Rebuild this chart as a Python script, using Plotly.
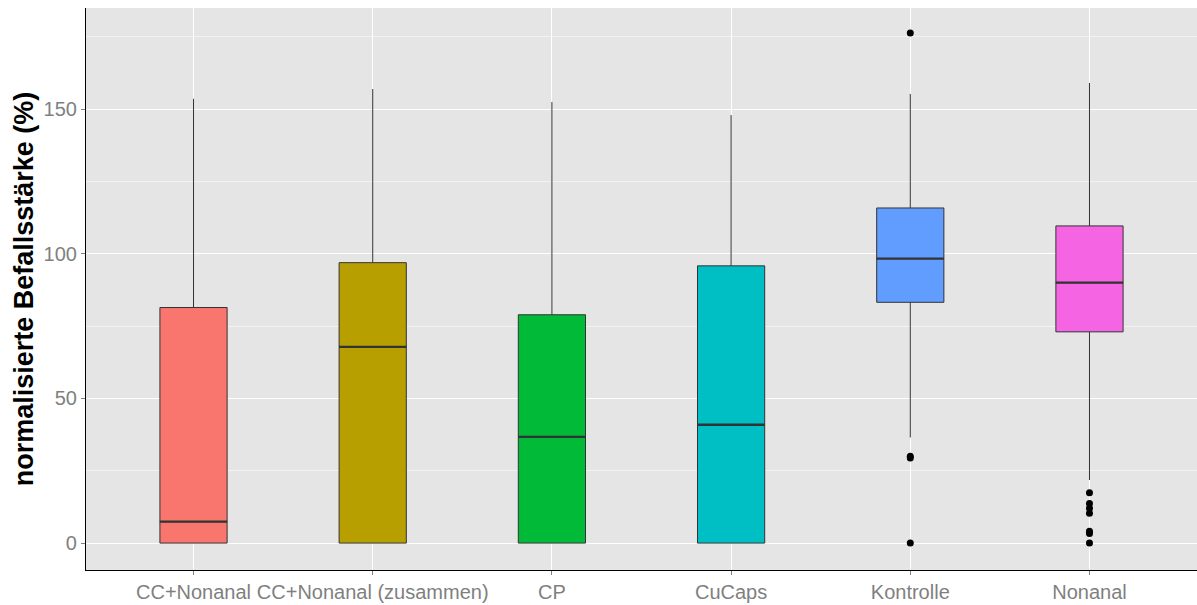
import plotly.graph_objects as go

# Gruppen und Kennwerte der Boxplots (normalisierte Befallsstärke in %)
groups = ["CC+Nonanal", "CC+Nonanal (zusammen)", "CP", "CuCaps", "Kontrolle", "Nonanal"]
lower_whisker = [0, 0, 0, 0, 36.5, 21.8]
q1 = [0, 0, 0, 0, 83.2, 73.0]
median = [7.4, 67.8, 36.7, 40.9, 98.3, 90.0]
q3 = [81.4, 96.9, 78.9, 95.8, 115.8, 109.6]
upper_whisker = [153.5, 156.9, 152.4, 147.9, 155.2, 159.0]

# Ausreißer je Gruppe
outliers = {
    "Kontrolle": [176.3, 30.0, 29.4, 0.0],
    "Nonanal": [17.4, 13.7, 12.0, 10.3, 4.1, 3.3, 0.0],
}

colors = ["#F8766D", "#B79F00", "#00BA38", "#00BFC4", "#619CFF", "#F564E3"]
box_width = 0.375

fig = go.Figure()
for i, g in enumerate(groups):
    fig.add_trace(go.Box(
        x=[i], q1=[q1[i]], median=[median[i]], q3=[q3[i]],
        lowerfence=[lower_whisker[i]], upperfence=[upper_whisker[i]],
        width=box_width, fillcolor=colors[i],
        line=dict(color="#333333", width=1), whiskerwidth=0,
        showlegend=False, hoverinfo="skip", name=g,
    ))
    # kräftigere Medianlinie
    fig.add_trace(go.Scatter(
        x=[i - box_width / 2, i + box_width / 2], y=[median[i], median[i]],
        mode="lines", line=dict(color="#333333", width=2.4),
        showlegend=False, hoverinfo="skip",
    ))
    if g in outliers:
        fig.add_trace(go.Scatter(
            x=[i] * len(outliers[g]), y=outliers[g], mode="markers",
            marker=dict(color="black", size=7), showlegend=False,
        ))

fig.update_layout(
    width=1197, height=605,
    margin=dict(l=86, r=0, t=8, b=35),
    paper_bgcolor="white", plot_bgcolor="#E5E5E5",
    font=dict(family="Liberation Sans, Arial, sans-serif"),
)
fig.update_xaxes(
    range=[-0.6, 5.6], tickvals=list(range(len(groups))), ticktext=groups,
    showgrid=True, gridcolor="white", gridwidth=1.2, zeroline=False,
    showline=True, linecolor="black", linewidth=1.2,
    ticks="outside", ticklen=4, tickcolor="#7F7F7F",
    tickfont=dict(size=20, color="#7F7F7F"), automargin=False,
)
fig.update_yaxes(
    range=[-9.3, 184.9], tickvals=[0, 50, 100, 150],
    showgrid=True, gridcolor="white", gridwidth=1.2, zeroline=False,
    minor=dict(tickvals=[25, 75, 125, 175], showgrid=True, gridcolor="#F2F2F2", gridwidth=0.6),
    showline=True, linecolor="black", linewidth=1.2,
    ticks="outside", ticklen=4, tickcolor="#7F7F7F",
    tickfont=dict(size=20, color="#7F7F7F"), automargin=False,
    title=dict(text="<b>normalisierte Befallsstärke (%)</b>",
               font=dict(size=27, color="black"), standoff=2),
)

fig.write_html("out.html")
